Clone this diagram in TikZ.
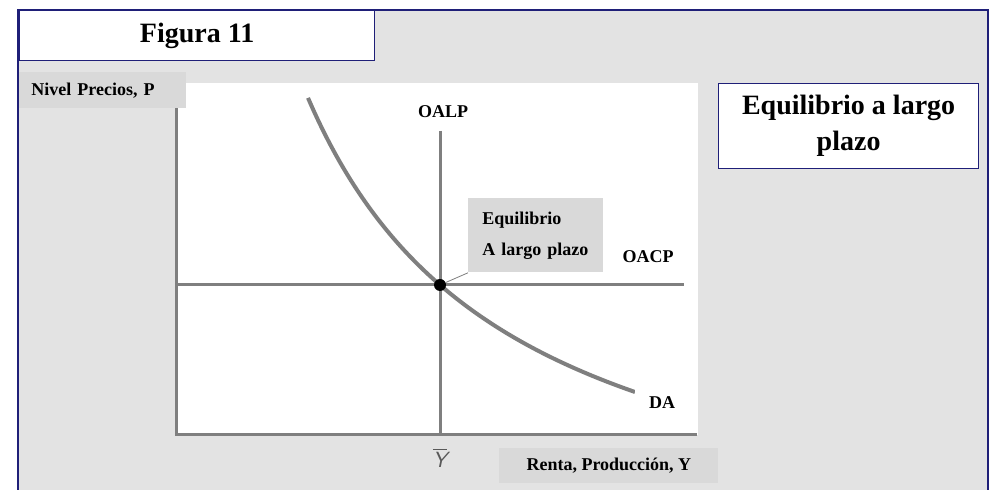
\documentclass[tikz,border=0pt]{standalone}
\usepackage{fontspec}
\setmainfont{Liberation Serif}
\usetikzlibrary{positioning}
\definecolor{frameblue}{HTML}{1F1F78}
\definecolor{panel}{HTML}{E3E3E3}
\definecolor{tagfill}{HTML}{D9D9D9}
\definecolor{curvegray}{HTML}{7F7F7F}

\begin{document}
\begin{tikzpicture}[
   x=0.5pt, y=-0.5pt,
   titlebox/.style={draw=frameblue, fill=white, line width=0.6pt, align=center,
               font=\bfseries\fontsize{14}{18}\selectfont},
   tag/.style={fill=tagfill, font=\bfseries\fontsize{9}{10}\selectfont},
   lbl/.style={fill=white, minimum height=16pt, font=\bfseries\fontsize{9}{10}\selectfont},
   axis/.style={draw=curvegray, line width=1.5pt}]
  \useasboundingbox (0,0) rectangle (990,490);
  % panel and frame
  \fill[panel] (18,10) rectangle (988,490);
  \draw[frameblue, line width=0.6pt] (18,490) -- (18,10) -- (988,10) -- (988,490);
  \fill[white] (176,83) rectangle (698,435);
  % titles
  \node[titlebox, minimum width=177.5pt, minimum height=25pt, anchor=north west]
     (fig) at (19,10) {Figura 11};
  \node[titlebox, minimum width=130pt, minimum height=42.5pt, anchor=north west]
     (eqtitle) at (718,83) {Equilibrio a largo\\plazo};
  % axes
  \coordinate (o) at (176,435);
  \coordinate (ytop) at (176,108);
  \coordinate (xend) at (697,435);
  \draw[axis] (ytop) -- (o) -- (xend);
  \node[tag, minimum width=83.5pt, minimum height=18pt, anchor=north west, inner xsep=6pt,
        text width=71.5pt] (ylab) at (19,72) {Nivel Precios, P};
  \node[tag, minimum width=109.5pt, minimum height=17.5pt, anchor=north west]
     (xlab) at (499,448) {Renta, Producción, Y};
  % long and short run supply
  \coordinate (oalpT) at (440,131);
  \coordinate (oalpB) at (440,435);
  \coordinate (oacpL) at (176,285);
  \coordinate (oacpR) at (684,285);
  \draw[axis] (oalpT) -- (oalpB);
  \draw[axis] (oacpL) -- (oacpR);
  % demand
  \draw[draw=curvegray, line width=2pt] plot[domain=308:635, samples=60, smooth]
     (\x, {578 - 992.8/((\x-101.2)/100)});
  \node[lbl, minimum width=39pt] (oalp) at (443,112) {OALP};
  \node[lbl, minimum width=41.5pt] (oacp) at (648,257) {OACP};
  \node[lbl, minimum width=27.5pt] (da) at (662,403) {DA};
  \node[text=black!65, font=\sffamily\fontsize{11}{12}\selectfont] (ybar) at (440,458)
     {$\overline{\mbox{\sffamily\itshape Y}}$};
  % equilibrium
  \node[circle, fill=black, inner sep=0pt, minimum size=6pt] (eq) at (440,285) {};
  \node[tag, minimum width=67.5pt, minimum height=37pt, anchor=north west, inner xsep=7pt,
        text width=53.5pt, align=left, font=\bfseries\fontsize{9}{15.5}\selectfont]
     (eqtag) at (468,198) {Equilibrio\\A largo plazo};
  \draw[curvegray, line width=0.4pt] (eq) -- (eqtag.south west);
\end{tikzpicture}
\end{document}
